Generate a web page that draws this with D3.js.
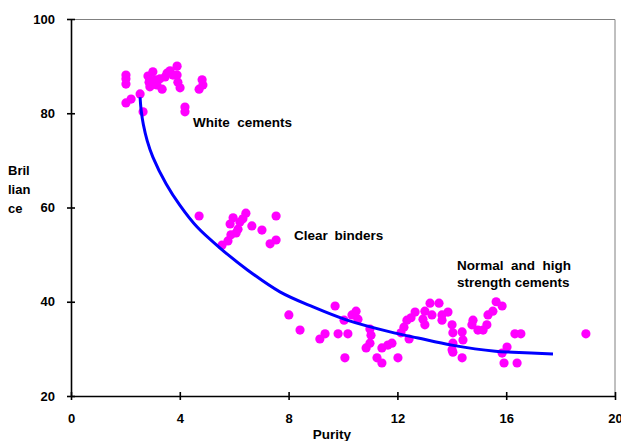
<!DOCTYPE html>
<html lang="en">
  <head>
    <meta charset="utf-8">
    <title>Brilliance vs Purity</title>
    <script src="https://d3js.org/d3.v7.min.js"></script>
    <style>
      body { margin: 0; background: white; }
      text { font-family: "Liberation Sans", Arial, sans-serif; font-weight: bold; fill: black; }
    </style>
  </head>
  <body>
    <script type="text/javascript">

      var w = 621;
      var h = 441;
      var margin = {top: 19, right: 6, bottom: 45, left: 71};
      var innerWidth = w - margin.left - margin.right;
      var innerHeight = h - margin.top - margin.bottom;

      // purity / brilliance readings
      var whitePurity = [2.02, 2.02, 2.02, 2.02, 2.21, 2.54, 2.65, 2.83, 2.87, 2.90, 3.01, 3.09, 3.16, 3.27,
                         3.35, 3.46, 3.53, 3.64, 3.75, 3.90, 3.90, 3.93, 4.01, 4.19, 4.19, 4.71, 4.82, 4.85];
      var whiteBril   = [88.1, 87.3, 86.2, 82.2, 83.0, 84.1, 80.3, 87.9, 86.6, 85.6, 88.8, 87.1, 86.0, 87.3,
                         85.1, 87.7, 88.5, 89.0, 88.1, 90.0, 88.1, 86.6, 85.4, 81.3, 80.3, 85.1, 87.1, 86.0];

      var clearPurity = [4.71, 5.55, 5.77, 5.88, 5.85, 5.96, 6.07, 6.14, 6.21, 6.32, 6.43, 6.65, 7.02, 7.54, 7.32, 7.54];
      var clearBril   = [58.2, 52.0, 52.9, 54.2, 56.5, 57.8, 54.6, 55.4, 56.9, 57.6, 58.8, 56.1, 55.2, 58.2, 52.3, 53.1];

      var normalPurity = [8.01, 8.42, 9.15, 9.34, 9.71, 9.82, 10.07, 10.04, 10.18, 10.33, 10.48, 10.55, 10.85, 10.99,
                          11.03, 10.99, 11.25, 11.43, 11.43, 11.65, 11.80, 12.02, 12.13, 12.24, 12.35, 12.50, 12.65,
                          12.43, 13.01, 13.20, 13.53, 13.27, 12.94, 13.01, 13.64, 13.64, 13.86, 14.01, 14.04, 14.04,
                          14.01, 14.04, 14.38, 14.41, 14.38, 14.78, 14.74, 14.96, 15.29, 15.15, 15.33, 15.51, 15.63,
                          15.85, 16.03, 15.85, 15.92, 16.40, 16.32, 16.54, 18.93];
      var normalBril   = [37.2, 34.0, 32.1, 33.2, 39.1, 33.2, 28.1, 36.1, 33.2, 37.2, 38.0, 36.3, 30.2, 34.2,
                          32.9, 31.2, 28.1, 27.0, 30.2, 30.8, 31.2, 28.1, 33.4, 34.6, 36.1, 36.6, 37.8,
                          32.1, 38.0, 39.7, 39.7, 37.2, 36.3, 35.1, 37.2, 36.1, 37.8, 35.1, 33.4, 31.2,
                          29.8, 29.3, 33.6, 31.9, 28.1, 36.1, 35.1, 34.0, 35.1, 34.0, 37.2, 38.0, 40.0,
                          39.1, 30.4, 29.1, 27.0, 27.0, 33.2, 33.2, 33.2];

      // trend line
      var trendPurity = [2.54, 2.58, 2.66, 2.80, 3.01, 3.5, 4.0, 4.63, 5.48, 6.5, 7.68, 8.9, 10.15, 11.73, 12.76, 14.0, 15.6, 16.25, 17.72];
      var trendBril   = [83.4, 80.6, 77.6, 74.2, 70.7, 65.0, 60.5, 55.9, 51.4, 46.7, 42.1, 38.9, 36.1, 33.6, 32.3, 30.8, 29.5, 29.3, 28.9];

      var xTicks = [0, 4, 8, 12, 16, 20];
      var yTicks = [20, 40, 60, 80, 100];

      var dotdata = [];
      [[whitePurity, whiteBril], [clearPurity, clearBril], [normalPurity, normalBril]].forEach(function(s) {
        s[0].forEach(function(p, i) { dotdata.push({purity: p, bril: s[1][i]}); });
      });
      var trend = trendPurity.map(function(p, i) { return {purity: p, bril: trendBril[i]}; });

      var svg = d3.select("body")
          .append("svg")
          .attr("width", w)
          .attr("height", h);

      var xScale = d3.scaleLinear().domain([0, 20]).range([0, innerWidth]);
      var yScale = d3.scaleLinear().domain([20, 100]).range([innerHeight, 0]);

      var g = svg.append("g")
          .attr("transform", `translate(${margin.left}, ${margin.top})`);

      // frame top + right
      g.append("path")
          .attr("d", `M0,0.5H${innerWidth}V${innerHeight}`)
          .attr("fill", "none")
          .attr("stroke", "#808080")
          .attr("stroke-width", 1);

      // dots
      g.append("g").selectAll("circle")
          .data(dotdata)
          .enter().append("circle")
          .attr("cx", function(d) { return xScale(d.purity); })
          .attr("cy", function(d) { return yScale(d.bril); })
          .attr("r", 4.6)
          .attr("fill", "#ff00ff");

      // trend line
      var line = d3.line()
          .x(function(d) { return xScale(d.purity); })
          .y(function(d) { return yScale(d.bril); })
          .curve(d3.curveCatmullRom.alpha(0.5));

      g.append("path")
          .datum(trend)
          .attr("d", line)
          .attr("fill", "none")
          .attr("stroke", "#0000ff")
          .attr("stroke-width", 3);

      // axes
      var xAxis = d3.axisBottom(xScale).tickValues(xTicks).tickSize(4).tickPadding(14).tickSizeOuter(0);
      var yAxis = d3.axisLeft(yScale).tickValues(yTicks).tickSize(4).tickPadding(12).tickSizeOuter(0);

      var gx = g.append("g")
          .attr("transform", `translate(0, ${innerHeight})`)
          .call(xAxis);
      var gy = g.append("g").call(yAxis);

      [gx, gy].forEach(function(a) {
        a.select(".domain").attr("stroke", "black").attr("stroke-width", 1.6);
        a.selectAll(".tick line").attr("stroke", "black").attr("stroke-width", 1.6);
        a.selectAll(".tick text")
            .attr("font-family", "Liberation Sans, Arial, sans-serif")
            .attr("font-weight", "bold")
            .attr("font-size", 13);
      });
      gx.selectAll(".tick line").attr("y1", -4);
      gy.selectAll(".tick line").attr("x1", 4);

      // annotations
      var notes = [
        {t: "White  cements", x: 193, y: 127, ws: 0},
        {t: "Clear binders", x: 294, y: 240, ws: 3},
        {t: "Normal  and  high", x: 457, y: 270, ws: 0},
        {t: "strength cements", x: 457, y: 287, ws: 0}
      ];
      svg.selectAll("text.note")
          .data(notes)
          .enter().append("text")
          .attr("class", "note")
          .attr("x", function(d) { return d.x; })
          .attr("y", function(d) { return d.y; })
          .attr("font-size", 13.5)
          .attr("word-spacing", function(d) { return d.ws; })
          .style("white-space", "pre")
          .text(function(d) { return d.t; });

      svg.append("text")
          .attr("x", 332)
          .attr("y", 439)
          .attr("text-anchor", "middle")
          .attr("font-size", 13.5)
          .text("Purity");

      ["Bril", "lian", "ce"].forEach(function(s, i) {
        svg.append("text")
            .attr("x", 8)
            .attr("y", 175 + i * 19)
            .attr("font-size", 13)
            .text(s);
      });

    </script>
  </body>
</html>
